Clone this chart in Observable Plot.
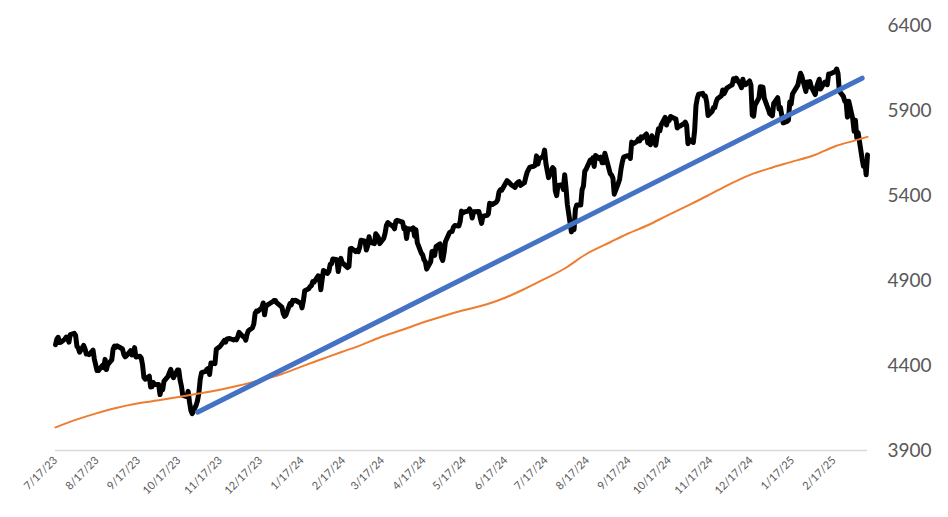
<!DOCTYPE html>
<html><head><meta charset="utf-8">
<script src="https://cdn.jsdelivr.net/npm/d3@7"></script>
<script src="https://cdn.jsdelivr.net/npm/@observablehq/plot@0.6"></script>
<style>body{margin:0;background:#fff;}</style>
</head><body><div id="chart"></div>
<script>
// S&P 500 daily closes
const spxDates = [
"2023-07-17","2023-07-18","2023-07-19","2023-07-20","2023-07-21","2023-07-24","2023-07-25","2023-07-26","2023-07-27","2023-07-28","2023-07-31",
"2023-08-01","2023-08-02","2023-08-03","2023-08-04","2023-08-07","2023-08-08","2023-08-09","2023-08-10","2023-08-11","2023-08-14","2023-08-15","2023-08-16","2023-08-17","2023-08-18","2023-08-21","2023-08-22","2023-08-23","2023-08-24","2023-08-25","2023-08-28","2023-08-29","2023-08-30","2023-08-31",
"2023-09-01","2023-09-05","2023-09-06","2023-09-07","2023-09-08","2023-09-11","2023-09-12","2023-09-13","2023-09-14","2023-09-15","2023-09-18","2023-09-19","2023-09-20","2023-09-21","2023-09-22","2023-09-25","2023-09-26","2023-09-27","2023-09-28","2023-09-29",
"2023-10-02","2023-10-03","2023-10-04","2023-10-05","2023-10-06","2023-10-09","2023-10-10","2023-10-11","2023-10-12","2023-10-13","2023-10-16","2023-10-17","2023-10-18","2023-10-19","2023-10-20","2023-10-23","2023-10-24","2023-10-25","2023-10-26","2023-10-27","2023-10-30","2023-10-31",
"2023-11-01","2023-11-02","2023-11-03","2023-11-06","2023-11-07","2023-11-08","2023-11-09","2023-11-10","2023-11-13","2023-11-14","2023-11-15","2023-11-16","2023-11-17","2023-11-20","2023-11-21","2023-11-22","2023-11-24","2023-11-27","2023-11-28","2023-11-29","2023-11-30",
"2023-12-01","2023-12-04","2023-12-05","2023-12-06","2023-12-07","2023-12-08","2023-12-11","2023-12-12","2023-12-13","2023-12-14","2023-12-15","2023-12-18","2023-12-19","2023-12-20","2023-12-21","2023-12-22","2023-12-26","2023-12-27","2023-12-28","2023-12-29",
"2024-01-02","2024-01-03","2024-01-04","2024-01-05","2024-01-08","2024-01-09","2024-01-10","2024-01-11","2024-01-12","2024-01-16","2024-01-17","2024-01-18","2024-01-19","2024-01-22","2024-01-23","2024-01-24","2024-01-25","2024-01-26","2024-01-29","2024-01-30","2024-01-31",
"2024-02-01","2024-02-02","2024-02-05","2024-02-06","2024-02-07","2024-02-08","2024-02-09","2024-02-12","2024-02-13","2024-02-14","2024-02-15","2024-02-16","2024-02-20","2024-02-21","2024-02-22","2024-02-23","2024-02-26","2024-02-27","2024-02-28","2024-02-29",
"2024-03-01","2024-03-04","2024-03-05","2024-03-06","2024-03-07","2024-03-08","2024-03-11","2024-03-12","2024-03-13","2024-03-14","2024-03-15","2024-03-18","2024-03-19","2024-03-20","2024-03-21","2024-03-22","2024-03-25","2024-03-26","2024-03-27","2024-03-28",
"2024-04-01","2024-04-02","2024-04-03","2024-04-04","2024-04-05","2024-04-08","2024-04-09","2024-04-10","2024-04-11","2024-04-12","2024-04-15","2024-04-16","2024-04-17","2024-04-18","2024-04-19","2024-04-22","2024-04-23","2024-04-24","2024-04-25","2024-04-26","2024-04-29","2024-04-30",
"2024-05-01","2024-05-02","2024-05-03","2024-05-06","2024-05-07","2024-05-08","2024-05-09","2024-05-10","2024-05-13","2024-05-14","2024-05-15","2024-05-16","2024-05-17","2024-05-20","2024-05-21","2024-05-22","2024-05-23","2024-05-24","2024-05-28","2024-05-29","2024-05-30","2024-05-31",
"2024-06-03","2024-06-04","2024-06-05","2024-06-06","2024-06-07","2024-06-10","2024-06-11","2024-06-12","2024-06-13","2024-06-14","2024-06-17","2024-06-18","2024-06-20","2024-06-21","2024-06-24","2024-06-25","2024-06-26","2024-06-27","2024-06-28",
"2024-07-01","2024-07-02","2024-07-03","2024-07-05","2024-07-08","2024-07-09","2024-07-10","2024-07-11","2024-07-12","2024-07-15","2024-07-16","2024-07-17","2024-07-18","2024-07-19","2024-07-22","2024-07-23","2024-07-24","2024-07-25","2024-07-26","2024-07-29","2024-07-30","2024-07-31",
"2024-08-01","2024-08-02","2024-08-05","2024-08-06","2024-08-07","2024-08-08","2024-08-09","2024-08-12","2024-08-13","2024-08-14","2024-08-15","2024-08-16","2024-08-19","2024-08-20","2024-08-21","2024-08-22","2024-08-23","2024-08-26","2024-08-27","2024-08-28","2024-08-29","2024-08-30",
"2024-09-03","2024-09-04","2024-09-05","2024-09-06","2024-09-09","2024-09-10","2024-09-11","2024-09-12","2024-09-13","2024-09-16","2024-09-17","2024-09-18","2024-09-19","2024-09-20","2024-09-23","2024-09-24","2024-09-25","2024-09-26","2024-09-27","2024-09-30",
"2024-10-01","2024-10-02","2024-10-03","2024-10-04","2024-10-07","2024-10-08","2024-10-09","2024-10-10","2024-10-11","2024-10-14","2024-10-15","2024-10-16","2024-10-17","2024-10-18","2024-10-21","2024-10-22","2024-10-23","2024-10-24","2024-10-25","2024-10-28","2024-10-29","2024-10-30","2024-10-31",
"2024-11-01","2024-11-04","2024-11-05","2024-11-06","2024-11-07","2024-11-08","2024-11-11","2024-11-12","2024-11-13","2024-11-14","2024-11-15","2024-11-18","2024-11-19","2024-11-20","2024-11-21","2024-11-22","2024-11-25","2024-11-26","2024-11-27","2024-11-29",
"2024-12-02","2024-12-03","2024-12-04","2024-12-05","2024-12-06","2024-12-09","2024-12-10","2024-12-11","2024-12-12","2024-12-13","2024-12-16","2024-12-17","2024-12-18","2024-12-19","2024-12-20","2024-12-23","2024-12-24","2024-12-26","2024-12-27","2024-12-30","2024-12-31",
"2025-01-02","2025-01-03","2025-01-06","2025-01-07","2025-01-08","2025-01-10","2025-01-13","2025-01-14","2025-01-15","2025-01-16","2025-01-17","2025-01-21","2025-01-22","2025-01-23","2025-01-24","2025-01-27","2025-01-28","2025-01-29","2025-01-30","2025-01-31",
"2025-02-03","2025-02-04","2025-02-05","2025-02-06","2025-02-07","2025-02-10","2025-02-11","2025-02-12","2025-02-13","2025-02-14","2025-02-18","2025-02-19","2025-02-20","2025-02-21","2025-02-24","2025-02-25","2025-02-26","2025-02-27","2025-02-28",
"2025-03-03","2025-03-04","2025-03-05","2025-03-06","2025-03-07","2025-03-10","2025-03-11","2025-03-12","2025-03-13","2025-03-14"
];
const spxClose = [
4522,4555,4566,4535,4536,4555,4567,4566,4537,4582,4589,
4577,4513,4502,4478,4518,4499,4467,4468,4464,4490,4437,4404,4370,4370,4400,4388,4436,4376,4406,4433,4497,4514,4508,
4516,4497,4465,4451,4457,4487,4462,4467,4505,4450,4454,4444,4402,4330,4320,4337,4274,4275,4300,4288,
4288,4229,4263,4258,4308,4336,4358,4377,4349,4328,4373,4373,4314,4278,4224,4217,4248,4186,4137,4117,4167,4194,
4238,4318,4358,4365,4378,4383,4347,4415,4411,4496,4502,4508,4514,4547,4538,4556,4559,4550,4555,4551,4568,
4595,4570,4567,4549,4585,4604,4622,4644,4707,4720,4719,4740,4768,4698,4746,4755,4775,4782,4783,4770,
4743,4705,4689,4697,4764,4757,4783,4780,4784,4766,4739,4780,4840,4851,4865,4869,4894,4891,4928,4925,4846,
4906,4959,4942,4954,4995,4998,5027,5022,4953,5001,5030,5005,4976,4982,5087,5089,5070,5078,5070,5096,
5137,5131,5079,5105,5157,5124,5117,5175,5165,5150,5117,5149,5179,5225,5241,5234,5218,5204,5248,5254,
5243,5205,5211,5147,5204,5202,5209,5161,5199,5123,5061,5051,5022,5011,4967,5010,5071,5072,5048,5100,5116,5036,
5018,5064,5128,5181,5187,5188,5214,5223,5221,5247,5308,5297,5303,5308,5321,5307,5268,5305,5306,5267,5236,5278,
5283,5291,5354,5352,5347,5361,5375,5421,5434,5431,5473,5487,5473,5464,5448,5469,5477,5482,5460,
5475,5509,5537,5567,5572,5577,5633,5585,5615,5631,5667,5588,5545,5505,5564,5555,5427,5399,5459,5464,5436,5522,
5446,5347,5186,5240,5199,5319,5344,5344,5434,5455,5543,5554,5608,5597,5621,5571,5635,5616,5625,5592,5592,5648,
5529,5520,5503,5408,5471,5496,5554,5596,5626,5634,5634,5618,5714,5703,5718,5732,5722,5745,5738,5762,
5709,5709,5699,5751,5696,5751,5793,5780,5815,5859,5815,5843,5841,5865,5853,5851,5797,5809,5808,5823,5832,5813,5705,
5729,5712,5783,5929,5973,5996,6001,5984,5985,5949,5871,5894,5917,5917,5949,5969,5987,6021,5999,6032,
6047,6050,6087,6075,6090,6053,6034,6084,6051,6051,6074,6050,5872,5867,5931,5974,6040,6037,5971,5907,5882,
5869,5942,5975,5909,5918,5827,5836,5843,5950,5937,5997,6049,6086,6119,6101,6012,6068,6039,6071,6041,
5994,6038,6061,6084,6026,6066,6068,6052,6115,6115,6129,6144,6118,6013,5983,5955,5956,5861,5955,
5850,5778,5843,5739,5770,5615,5572,5599,5522,5639
];

// 200-day moving average
const maDates = ["2023-07-17","2023-08-01","2023-08-17","2023-09-01","2023-09-15","2023-10-02","2023-10-17","2023-11-01","2023-11-15","2023-12-01","2023-12-15",
"2024-01-02","2024-01-17","2024-02-01","2024-02-15","2024-03-01","2024-03-15","2024-04-01","2024-04-15","2024-05-01","2024-05-15","2024-06-03","2024-06-17",
"2024-07-01","2024-07-15","2024-08-01","2024-08-15","2024-09-03","2024-09-16","2024-10-01","2024-10-15","2024-11-01","2024-11-15","2024-12-02","2024-12-16",
"2025-01-02","2025-01-15","2025-02-03","2025-02-18","2025-03-03","2025-03-14"];
const maValues = [4036,4080,4120,4152,4175,4195,4215,4235,4255,4282,4310,
4350,4395,4438,4478,4520,4565,4610,4650,4690,4722,4760,4800,
4850,4905,4975,5050,5125,5175,5225,5280,5345,5400,5470,5520,
5565,5595,5640,5690,5720,5745];

// Trend line end points
const trendDates = ["2023-10-31","2025-03-10"];
const trendValues = [4125,6090];

// Axis ticks
const xTickDates = ["2023-07-17","2023-08-17","2023-09-17","2023-10-17","2023-11-17","2023-12-17","2024-01-17","2024-02-17","2024-03-17","2024-04-17","2024-05-17","2024-06-17","2024-07-17","2024-08-17","2024-09-17","2024-10-17","2024-11-17","2024-12-17","2025-01-17","2025-02-17"];
const yTicks = [3900,4400,4900,5400,5900,6400];

const parse = d3.utcParse("%Y-%m-%d");
const spx = spxDates.map((d,i)=>({date: parse(d), value: spxClose[i]}));
const ma = maDates.map((d,i)=>({date: parse(d), value: maValues[i]}));
const trend = trendDates.map((d,i)=>({date: parse(d), value: trendValues[i]}));

const chart = Plot.plot({
  width: 948, height: 517,
  marginLeft: 55, marginRight: 81, marginTop: 25, marginBottom: 67,
  style: {fontFamily: "Lato, sans-serif", background: "#fff", color: "#595959", overflow: "visible"},
  x: {type: "utc", domain: [parse("2023-07-17"), parse("2025-03-14")]},
  y: {domain: [3900, 6400]},
  marks: [
    Plot.ruleY([3900], {stroke: "#d9d9d9", strokeWidth: 1.5}),
    Plot.axisX({ticks: xTickDates.map(parse), tickFormat: d3.utcFormat("%-m/%-d/%y"), tickRotate: -45, tickSize: 0, tickPadding: 8, fontSize: 11, label: null}),
    Plot.axisY({anchor: "right", ticks: yTicks, tickFormat: d => String(d), tickSize: 0, tickPadding: 20, textAnchor: "start", fontSize: 19, label: null}),
    Plot.line(spx, {x: "date", y: "value", stroke: "#000", strokeWidth: 5, strokeLinejoin: "round", strokeLinecap: "round"}),
    Plot.line(ma, {x: "date", y: "value", stroke: "#ED7D31", strokeWidth: 2, curve: "monotone-x"}),
    Plot.line(trend, {x: "date", y: "value", stroke: "#4472C4", strokeWidth: 5})
  ]
});
document.getElementById("chart").appendChild(chart);
</script>
</body></html>
